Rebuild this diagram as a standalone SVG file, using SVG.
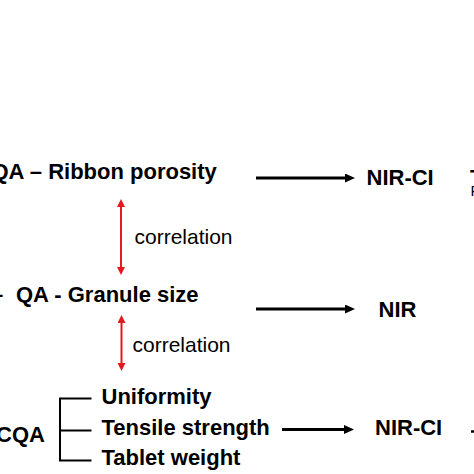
<svg xmlns="http://www.w3.org/2000/svg" width="474" height="474" viewBox="0 0 474 474">
<style>
text{font-family:"Liberation Sans",Arial,sans-serif;fill:#000}
.b{font-weight:bold;font-size:22px}
.n{font-size:21px}
.blk{stroke:#000;stroke-width:3;fill:none}
.red{stroke:#e3191f;stroke-width:2;fill:none}
.br{stroke:#000;stroke-width:2;fill:none}
</style>
<defs>
<marker id="ah" markerUnits="userSpaceOnUse" markerWidth="10" markerHeight="10" refX="6" refY="4.5" orient="auto"><path d="M0,0 L10,4.5 L0,9 z" fill="#000"/></marker>
<marker id="rh" markerUnits="userSpaceOnUse" markerWidth="9" markerHeight="9" refX="5" refY="4" orient="auto-start-reverse"><path d="M0,0 L8,4 L0,8 z" fill="#e3191f"/></marker>
</defs>
<rect width="474" height="474" fill="#fff"/>
<g id="connectors">
<line class="blk" x1="256" y1="178" x2="351" y2="178" marker-end="url(#ah)"/>
<line class="blk" x1="256" y1="309" x2="351" y2="309" marker-end="url(#ah)"/>
<line class="blk" x1="282" y1="429.5" x2="350" y2="429.5" marker-end="url(#ah)"/>
<line class="red" x1="121" y1="202" x2="121" y2="272" marker-start="url(#rh)" marker-end="url(#rh)"/>
<line class="red" x1="121.5" y1="318" x2="121.5" y2="368" marker-start="url(#rh)" marker-end="url(#rh)"/>
<path class="br" d="M91.5,398.5 H60 V460.5 H91.5 M60,430.5 H91.5"/>
<line x1="471" y1="431.5" x2="474" y2="431.5" stroke="#000" stroke-width="2.5"/>
</g>
<g id="node-ribbon"><text class="b" x="-8.5" y="179">QA – Ribbon porosity</text></g>
<g id="node-nirci-1"><text class="b" x="366.5" y="185">NIR-CI</text></g>
<g id="node-granule"><text class="b" x="-9" y="302">–<tspan x="16">QA - Granule size</tspan></text></g>
<g id="node-nir"><text class="b" x="378.5" y="317">NIR</text></g>
<g id="label-corr-1"><text class="n" x="134.5" y="243.5">correlation</text></g>
<g id="label-corr-2"><text class="n" x="132.5" y="351.5">correlation</text></g>
<g id="node-cqa"><text class="b" x="-4" y="442">CQA</text></g>
<g id="node-uniformity"><text class="b" x="101.5" y="404">Uniformity</text></g>
<g id="node-tensile"><text class="b" x="101.5" y="435">Tensile strength</text></g>
<g id="node-weight"><text class="b" x="101.5" y="465">Tablet weight</text></g>
<g id="node-nirci-3"><text class="b" x="375" y="435">NIR-CI</text></g>
<g id="edge-fragments"><text class="b" x="470" y="185" font-size="20">T</text><text x="470.5" y="196" font-size="15">P</text></g>
</svg>
